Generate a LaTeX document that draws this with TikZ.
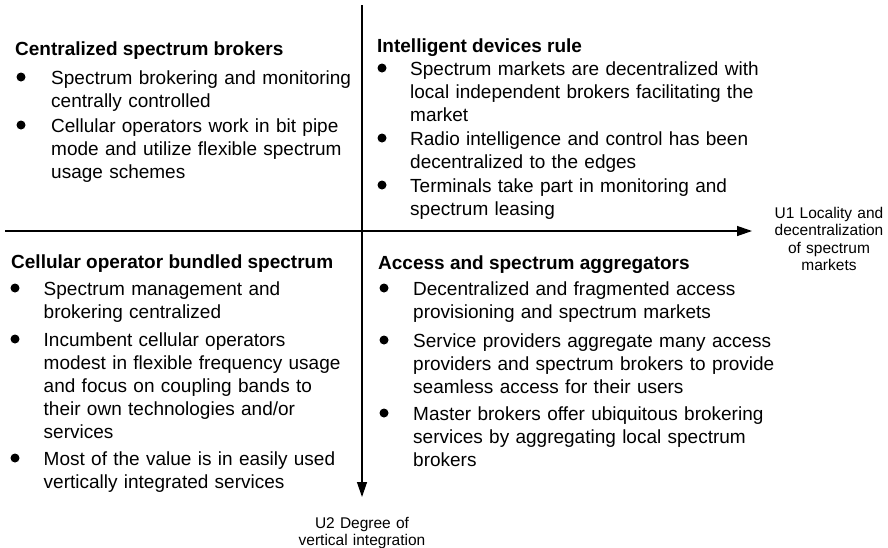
\documentclass[tikz,border=0pt]{standalone}
\usepackage{fontspec}
\setmainfont{Liberation Sans}
\usetikzlibrary{arrows.meta}
\begin{document}
\begin{tikzpicture}[x=1pt,y=-1pt,
  txt/.style={inner sep=0pt, anchor=base west, align=left, text width=470pt, font=\fontsize{19}{23}\selectfont},
  ttl/.style={inner sep=0pt, anchor=base west, font=\fontsize{19}{23}\selectfont\bfseries},
  bul/.style={circle, fill=black, inner sep=0pt, minimum size=9pt},
  axlbl/.style={inner sep=0pt, anchor=base, align=center, text width=140pt, font=\fontsize{15.5}{17.4}\selectfont},
  axisline/.style={line width=1.3pt, -{Triangle[length=15pt,width=10pt]}}]
\useasboundingbox (0,0) rectangle (888,547);

% axes
\coordinate (xs) at (5,231);
\coordinate (xe) at (752,231);
\coordinate (ys) at (362,5);
\coordinate (ye) at (362,497);
\draw[axisline] (xs) -- (xe);
\draw[axisline] (ys) -- (ye);
\node[axlbl] (u1) at (829,218.5) {U1 Locality and\\decentralization\\of spectrum\\markets};
\node[axlbl] (u2) at (362,528) {U2 Degree of\\vertical integration};

% top-left
\node[ttl] (tlt) at (15,55) {Centralized spectrum brokers};
\node[bul] (tlb1) at (21,77) {};
\node[txt] (tl1) at (51,84) {Spectrum brokering and monitoring\\centrally controlled};
\node[bul] (tlb2) at (21,125) {};
\node[txt] (tl2) at (51,132) {Cellular operators work in bit pipe\\mode and utilize flexible spectrum\\usage schemes};

% top-right
\node[ttl] (trt) at (377,52) {Intelligent devices rule};
\node[bul] (trb1) at (382,68) {};
\node[txt] (tr1) at (410,75) {Spectrum markets are decentralized with\\local independent brokers facilitating the\\market};
\node[bul] (trb2) at (382,138) {};
\node[txt] (tr2) at (410,145) {Radio intelligence and control has been\\decentralized to the edges};
\node[bul] (trb3) at (382,185) {};
\node[txt] (tr3) at (410,192) {Terminals take part in monitoring and\\spectrum leasing};

% bottom-left
\node[ttl] (blt) at (11,268) {Cellular operator bundled spectrum};
\node[bul] (blb1) at (15,288) {};
\node[txt] (bl1) at (43.5,295) {Spectrum management and\\brokering centralized};
\node[bul] (blb2) at (15,339) {};
\node[txt] (bl2) at (43.5,346) {Incumbent cellular operators\\modest in flexible frequency usage\\and focus on coupling bands to\\their own technologies and/or\\services};
\node[bul] (blb3) at (15,458) {};
\node[txt] (bl3) at (43.5,465) {Most of the value is in easily used\\vertically integrated services};

% bottom-right
\node[ttl] (brt) at (378,269) {Access and spectrum aggregators};
\node[bul] (brb1) at (384,288) {};
\node[txt] (br1) at (413,295) {Decentralized and fragmented access\\provisioning and spectrum markets};
\node[bul] (brb2) at (384,340) {};
\node[txt] (br2) at (413,347) {Service providers aggregate many access\\providers and spectrum brokers to provide\\seamless access for their users};
\node[bul] (brb3) at (384,413) {};
\node[txt] (br3) at (413,420) {Master brokers offer ubiquitous brokering\\services by aggregating local spectrum\\brokers};
\end{tikzpicture}
\end{document}
